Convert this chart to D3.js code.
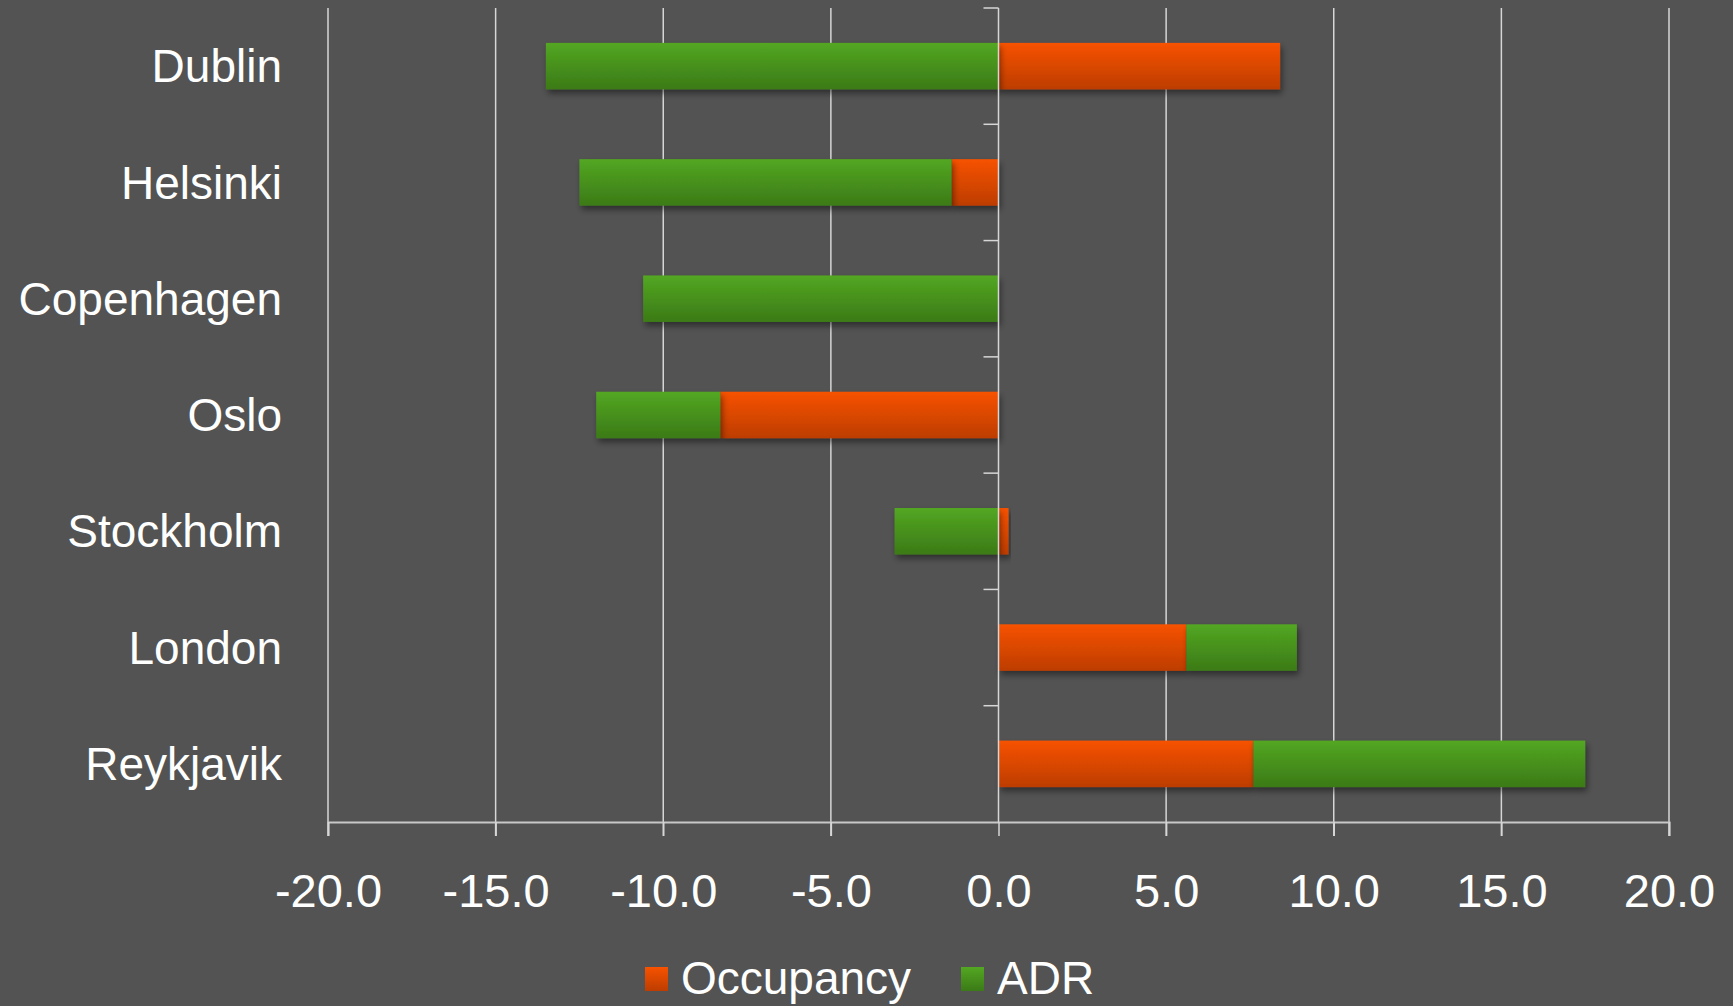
<!DOCTYPE html>
<html>
<head>
<meta charset="utf-8">
<script src="https://cdn.jsdelivr.net/npm/d3@7"></script>
<style>
  html, body { margin: 0; padding: 0; background: #535353; }
  svg { display: block; }
  text { font-family: "Liberation Sans", Arial, sans-serif; fill: #ffffff; }
</style>
</head>
<body>
<script>
  // Data
  var categories = ['Dublin', 'Helsinki', 'Copenhagen', 'Oslo', 'Stockholm', 'London', 'Reykjavik'],
      occupancy = [8.4, -1.4, 0.0, -8.3, 0.3, 5.6, 7.6],
      adr = [-13.5, -11.1, -10.6, -3.7, -3.1, 3.3, 9.9],
      seriesNames = ['Occupancy', 'ADR'],
      xTicks = [-20, -15, -10, -5, 0, 5, 10, 15, 20];

  var width = 1733,
      height = 1006,
      margin = {top: 8, right: 64, bottom: 184, left: 328},
      innerW = width - margin.left - margin.right,
      innerH = height - margin.top - margin.bottom;

  var rows = categories.map(function(c, i) {
    return {city: c, Occupancy: occupancy[i], ADR: adr[i]};
  });

  var stack = d3.stack()
    .keys(seriesNames)
    .offset(d3.stackOffsetDiverging);
  var layers = stack(rows);

  var svg = d3.select('body').append('svg')
    .attr('width', width)
    .attr('height', height);

  var defs = svg.append('defs');
  var grads = {
    Occupancy: ['#f75200', '#bd3d00'],
    ADR: ['#53a722', '#3b7a17']
  };
  Object.keys(grads).forEach(function(k) {
    var g = defs.append('linearGradient')
      .attr('id', 'grad-' + k)
      .attr('x1', 0).attr('y1', 0).attr('x2', 0).attr('y2', 1);
    g.append('stop').attr('offset', '0%').attr('stop-color', grads[k][0]);
    g.append('stop').attr('offset', '100%').attr('stop-color', grads[k][1]);
  });
  defs.append('filter')
    .attr('id', 'shadow')
    .attr('x', '-10%').attr('y', '-20%').attr('width', '130%').attr('height', '160%')
    .append('feDropShadow')
    .attr('dx', 2).attr('dy', 4)
    .attr('stdDeviation', 3)
    .attr('flood-color', '#000')
    .attr('flood-opacity', 0.45);

  var x = d3.scaleLinear().domain([-20, 20]).range([0, innerW]);
  var y = d3.scaleBand().domain(categories).range([0, innerH]).paddingInner(0.6).paddingOuter(0.3);
  var yStep = d3.scaleBand().domain(categories).range([0, innerH]);

  var g = svg.append('g').attr('transform', 'translate(' + margin.left + ',' + margin.top + ')');

  // vertical gridlines with ticks below the x axis
  g.append('g')
    .attr('class', 'grid')
    .selectAll('line')
    .data(xTicks.filter(function(d) { return d !== 0; }))
    .enter().append('line')
    .attr('x1', function(d) { return x(d); })
    .attr('x2', function(d) { return x(d); })
    .attr('y1', 0)
    .attr('y2', innerH + 14)
    .style('stroke', '#d6d6d6')
    .style('stroke-width', 1.5);

  // bars
  var layer = g.selectAll('.layer')
    .data(layers)
    .enter().append('g')
    .attr('class', 'layer')
    .attr('fill', function(d) { return 'url(#grad-' + d.key + ')'; });

  layer.selectAll('rect')
    .data(function(d) { return d; })
    .enter().append('rect')
    .filter(function(d) { return d[1] - d[0] !== 0; })
    .attr('x', function(d) { return x(Math.min(d[0], d[1])); })
    .attr('width', function(d) { return Math.abs(x(d[1]) - x(d[0])); })
    .attr('y', function(d) { return y(d.data.city); })
    .attr('height', y.bandwidth())
    .attr('filter', 'url(#shadow)');

  // x axis
  var xAxis = d3.axisBottom(x)
    .tickValues(xTicks)
    .tickSize(14)
    .tickPadding(38)
    .tickFormat(function(d) { return d.toFixed(1); });
  var xg = g.append('g')
    .attr('transform', 'translate(0,' + innerH + ')')
    .call(xAxis);
  xg.select('.domain').style('stroke', '#c8c8c8').style('stroke-width', 2);
  xg.selectAll('.tick line').style('stroke', '#d6d6d6').style('stroke-width', 1.5);
  xg.selectAll('.tick text')
    .style('font-size', '47px')
    .style('font-family', '"Liberation Sans", Arial, sans-serif')
    .attr('fill', '#ffffff');

  // y axis at zero, drawn over the bars
  var ya = g.append('g').attr('transform', 'translate(' + x(0) + ',0)');
  ya.append('line')
    .attr('y1', 0).attr('y2', innerH)
    .style('stroke', '#d6d6d6')
    .style('stroke-width', 1.5);
  ya.selectAll('.ytick')
    .data(categories)
    .enter().append('line')
    .attr('class', 'ytick')
    .attr('x1', -15).attr('x2', 0)
    .attr('y1', function(d) { return yStep(d); })
    .attr('y2', function(d) { return yStep(d); })
    .style('stroke', '#d6d6d6')
    .style('stroke-width', 1.5);

  // category labels
  g.append('g').selectAll('text')
    .data(categories)
    .enter().append('text')
    .attr('x', -46)
    .attr('y', function(d) { return yStep(d) + yStep.bandwidth() / 2; })
    .attr('dy', '0.35em')
    .attr('text-anchor', 'end')
    .style('font-size', '46px')
    .text(function(d) { return d; });

  // legend
  var legend = svg.append('g').attr('transform', 'translate(645,991)');
  var offsets = [0, 316];
  seriesNames.forEach(function(name, i) {
    var item = legend.append('g').attr('transform', 'translate(' + offsets[i] + ',0)');
    item.append('rect')
      .attr('x', 0).attr('y', -24)
      .attr('width', 23).attr('height', 24)
      .attr('fill', 'url(#grad-' + name + ')');
    item.append('text')
      .attr('x', 36).attr('y', 3)
      .style('font-size', '46px')
      .text(name);
  });
</script>
</body>
</html>
